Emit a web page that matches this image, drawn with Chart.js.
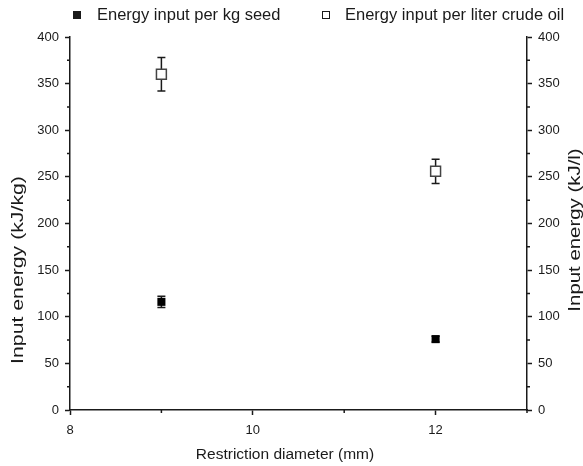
<!DOCTYPE html>
<html lang="en">
<head>
    <meta charset="UTF-8">
    <title>Input energy vs restriction diameter</title>
    <script src="https://cdn.jsdelivr.net/npm/chart.js@4.4.1/dist/chart.umd.min.js"></script>
    <style>
        html, body { margin: 0; padding: 0; background: #fff; }
        .chart-container { position: relative; width: 583px; height: 466px; }
    </style>
</head>
<body>
    <div class="chart-container">
        <canvas id="energyChart"></canvas>
    </div>
    <script>
        // data
        const diameters = [9, 12];
        const seedEnergy = [116, 76];
        const seedError = [6, 3];
        const oilEnergy = [360, 256];
        const oilError = [18, 13];
        const xLabels = [8, 10, 12];
        const seriesNames = ['Energy input per kg seed', 'Energy input per liter crude oil'];
        const axisTitles = ['Restriction diameter (mm)', 'Input energy (kJ/kg)', 'Input energy (kJ/l)'];

        const ink = '#1a1a1a';
        const fontFamily = '"Liberation Sans", Arial, sans-serif';

        // error bars, drawn under the markers
        const errorBars = {
            id: 'errorBars',
            beforeDatasetsDraw(chart) {
                const ctx = chart.ctx;
                chart.data.datasets.forEach((ds, i) => {
                    const meta = chart.getDatasetMeta(i);
                    const yScale = chart.scales[ds.yAxisID];
                    meta.data.forEach((pt, j) => {
                        const v = ds.data[j].y, e = ds.errors[j];
                        const top = yScale.getPixelForValue(v + e);
                        const bot = yScale.getPixelForValue(v - e);
                        ctx.save();
                        ctx.strokeStyle = ink;
                        ctx.lineWidth = 1.5;
                        ctx.beginPath();
                        ctx.moveTo(pt.x, top); ctx.lineTo(pt.x, bot);
                        ctx.moveTo(pt.x - 4, top); ctx.lineTo(pt.x + 4, top);
                        ctx.moveTo(pt.x - 4, bot); ctx.lineTo(pt.x + 4, bot);
                        ctx.stroke();
                        ctx.restore();
                    });
                });
            }
        };

        // vertical titles in the original are a bit stretched along their length
        function rotatedText(ctx, text, cx, cy, stretch) {
            ctx.save();
            ctx.translate(cx, cy);
            ctx.rotate(-Math.PI / 2);
            ctx.scale(stretch, 1);
            ctx.fillText(text, 0, 0);
            ctx.restore();
        }

        // short minor ticks, axis titles and the legend row
        const extras = {
            id: 'extras',
            afterDraw(chart) {
                const ctx = chart.ctx;
                const {x, y, y2} = chart.scales;
                ctx.save();
                ctx.strokeStyle = ink;
                ctx.lineWidth = 1.5;
                ctx.beginPath();
                x.ticks.forEach(t => {
                    if (!xLabels.includes(t.value)) {
                        const px = x.getPixelForValue(t.value);
                        ctx.moveTo(px, x.top); ctx.lineTo(px, x.top + 3);
                    }
                });
                y.ticks.forEach(t => {
                    if (t.value % 50 !== 0) {
                        const py = y.getPixelForValue(t.value);
                        ctx.moveTo(y.right, py); ctx.lineTo(y.right - 3, py);
                        ctx.moveTo(y2.left, py); ctx.lineTo(y2.left + 3, py);
                    }
                });
                ctx.stroke();

                // axis titles
                ctx.fillStyle = ink;
                ctx.textAlign = 'center';
                ctx.textBaseline = 'middle';
                ctx.font = '15.5px ' + fontFamily;
                ctx.fillText(axisTitles[0], 285, 455);
                ctx.font = '17px ' + fontFamily;
                rotatedText(ctx, axisTitles[1], 18, 270, 1.25);
                rotatedText(ctx, axisTitles[2], 575, 230, 1.2);
                ctx.restore();

                // legend
                ctx.save();
                ctx.font = '16.5px ' + fontFamily;
                ctx.textBaseline = 'middle';
                ctx.fillStyle = ink;
                const ly = 15;
                ctx.fillRect(73, ly - 4, 8, 8);
                ctx.fillText(seriesNames[0], 97, ly);
                ctx.strokeStyle = ink;
                ctx.lineWidth = 1;
                ctx.strokeRect(322.5, ly - 3.5, 7, 7);
                ctx.fillText(seriesNames[1], 345, ly);
                ctx.restore();
            }
        };

        new Chart(document.getElementById('energyChart'), {
            type: 'scatter',
            data: {
                datasets: [{
                    label: seriesNames[0],
                    data: diameters.map((d, i) => ({x: d, y: seedEnergy[i]})),
                    errors: seedError,
                    yAxisID: 'y',
                    pointStyle: 'rect',
                    pointRadius: 5.7,
                    backgroundColor: '#000',
                    borderColor: '#000',
                    borderWidth: 0
                }, {
                    label: seriesNames[1],
                    data: diameters.map((d, i) => ({x: d, y: oilEnergy[i]})),
                    errors: oilError,
                    yAxisID: 'y2',
                    pointStyle: 'rect',
                    pointRadius: 7,
                    backgroundColor: '#fff',
                    borderColor: '#444',
                    borderWidth: 1.5
                }]
            },
            options: {
                responsive: true,
                maintainAspectRatio: false,
                animation: false,
                layout: { padding: { top: 37, left: 0, right: 0, bottom: 0 } },
                plugins: {
                    legend: { display: false },
                    tooltip: { enabled: false }
                },
                scales: {
                    x: {
                        type: 'linear',
                        min: 8, max: 13,
                        afterFit: s => { s.height = 56; },
                        afterBuildTicks: s => { s.ticks = [8, 9, 10, 11, 12, 13].map(v => ({value: v})); },
                        border: { color: ink, width: 1.5 },
                        grid: {
                            drawOnChartArea: false,
                            tickLength: 5,
                            tickWidth: 1.5,
                            tickColor: c => xLabels.includes(c.tick.value) ? ink : 'rgba(0,0,0,0)'
                        },
                        ticks: {
                            color: ink,
                            padding: 8,
                            maxRotation: 0,
                            font: { family: fontFamily, size: 13 },
                            callback: v => xLabels.includes(v) ? String(v) : ''
                        }
                    },
                    y: {
                        position: 'left',
                        min: 0, max: 400,
                        afterFit: s => { s.width = 70; },
                        border: { color: ink, width: 1.5 },
                        grid: {
                            drawOnChartArea: false,
                            tickLength: 5,
                            tickWidth: 1.5,
                            tickColor: c => c.tick.value % 50 === 0 ? ink : 'rgba(0,0,0,0)'
                        },
                        ticks: {
                            stepSize: 25,
                            color: ink,
                            padding: 6,
                            font: { family: fontFamily, size: 13 },
                            callback: v => v % 50 === 0 ? String(v) : ''
                        }
                    },
                    y2: {
                        position: 'right',
                        min: 0, max: 400,
                        afterFit: s => { s.width = 56; },
                        border: { color: ink, width: 1.5 },
                        grid: {
                            drawOnChartArea: false,
                            tickLength: 5,
                            tickWidth: 1.5,
                            tickColor: c => c.tick.value % 50 === 0 ? ink : 'rgba(0,0,0,0)'
                        },
                        ticks: {
                            stepSize: 25,
                            color: ink,
                            padding: 6,
                            font: { family: fontFamily, size: 13 },
                            callback: v => v % 50 === 0 ? String(v) : ''
                        }
                    }
                }
            },
            plugins: [errorBars, extras]
        });
    </script>
</body>
</html>
